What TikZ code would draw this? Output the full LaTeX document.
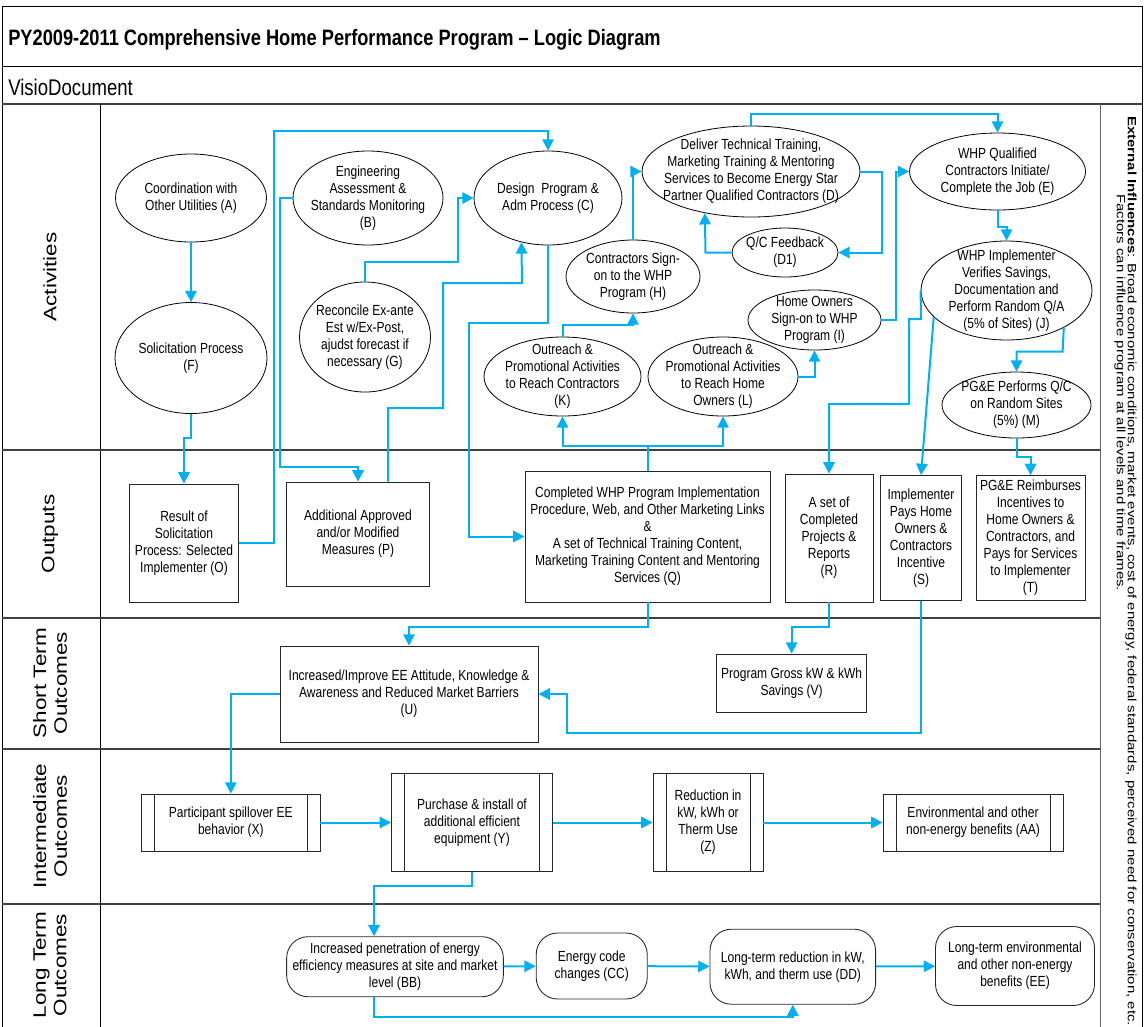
\documentclass[tikz,border=0pt]{standalone}
\usepackage{fontspec}
\setmainfont{Liberation Sans}[FakeStretch=0.82]
\newfontfamily\lanefont{Liberation Sans}[FakeStretch=1.25]
\usetikzlibrary{shapes,arrows.meta}
\definecolor{flowblue}{RGB}{0,176,240}

\begin{document}
\begin{tikzpicture}[x=0.75pt,y=-0.75pt,
  every node/.style={font=\fontsize{11}{12.75}\selectfont,align=center,inner sep=0pt},
  ell/.style 2 args={shape=ellipse,draw=black,line width=0.6pt,inner xsep=-20pt,inner ysep=-10pt,minimum width=#1*0.75pt,minimum height=#2*0.75pt},
  box/.style 2 args={shape=rectangle,draw=black!85,line width=0.65pt,minimum width=#1*0.75pt,minimum height=#2*0.75pt},
  proc/.style 2 args={box={#1}{#2},path picture={\draw[line width=0.6pt] ([xshift=9.75pt]path picture bounding box.north west) -- ([xshift=9.75pt]path picture bounding box.south west) ([xshift=-9.75pt]path picture bounding box.north east) -- ([xshift=-9.75pt]path picture bounding box.south east);}},
  term/.style 2 args={box={#1}{#2},rounded corners=16pt},
  flow/.style={draw=flowblue,line width=1.5pt,-{Triangle[length=8.5pt,width=8.5pt]}},
  lane/.style={draw=black!75,line width=1.2pt},
  lanelabel/.style={rotate=90,font=\lanefont\fontsize{13.5}{15.5}\selectfont}]
\useasboundingbox (0,0) rectangle (1144,1026);
\draw[line width=0.6pt] (2,6) rectangle (1142,1030);
\draw[line width=0.6pt] (2,66) -- (1142,66);
\draw[lane] (2,104) -- (1142,104);
\draw[line width=0.6pt] (100,104) -- (100,1030);
\draw[line width=0.6pt,black!60] (1100,104) -- (1100,1030);
\foreach \y in {450,618,749,904} \draw[lane] (2,\y) -- (1100,\y);

\node[anchor=west,font=\bfseries\fontsize{16.7}{20}\selectfont] (title) at (8,40) {PY2009-2011 Comprehensive Home Performance Program – Logic Diagram};
\node[anchor=west,font=\fontsize{17}{20}\selectfont] (visio) at (8,87) {VisioDocument};
\node[lanelabel] (act) at (50,277) {Activities};
\node[lanelabel] (out) at (50,534) {Outputs};
\node[lanelabel] (sto) at (50,683) {Short Term\\Outcomes};
\node[lanelabel] (ito) at (50,826) {Intermediate\\Outcomes};
\node[lanelabel] (lto) at (50,965) {Long Term\\Outcomes};
\node[rotate=-90,anchor=west,font=\lanefont\fontsize{9}{11}\selectfont] (ext) at (1131,116) {\textbf{External Influences}: Broad economic conditions, market events, cost of energy, federal standards, perceived need for conservation, etc.};
\node[rotate=-90,anchor=west,font=\lanefont\fontsize{9}{11}\selectfont] (ext2) at (1120,194) {Factors can influence program at all levels and time frames.};

\node[ell={151}{88}] (A) at (191,198) {Coordination with\\Other Utilities (A)};
\node[ell={152}{111}] (F) at (191,358) {Solicitation Process\\(F)};
\node[ell={150}{94}] (B) at (368,198) {Engineering\\Assessment \&\\Standards Monitoring\\(B)};
\node[ell={131}{110}] (G) at (365,337) {Reconcile Ex-ante\\Est w/Ex-Post,\\ajudst forecast if\\necessary (G)};
\node[ell={148}{94}] (C) at (548,198) {Design~ Program \&\\Adm Process (C)};
\node[ell={218}{91}] (D) at (751,171.5) {Deliver Technical Training,\\Marketing Training \& Mentoring\\Services to Become Energy Star\\Partner Qualified Contractors (D)};
\node[ell={176}{77}] (E) at (997.5,171.5) {WHP Qualified\\Contractors Initiate/\\Complete the Job (E)};
\node[ell={106}{49}] (D1) at (785,252.5) {Q/C Feedback\\(D1)};
\node[ell={134}{73}] (H) at (633,276.5) {Contractors Sign-\\on to the WHP\\Program (H)};
\node[ell={133}{60}] (I) at (814.5,320) {Home Owners\\Sign-on to WHP\\Program (I)};
\node[ell={171}{99}] (J) at (1006.5,290.5) {WHP Implementer\\Verifies Savings,\\Documentation and\\Perform Random Q/A\\(5\% of Sites) (J)};
\node[ell={157}{79}] (K) at (562.5,376.5) {Outreach \&\\Promotional Activities\\to Reach Contractors\\(K)};
\node[ell={150}{79}] (L) at (723,376.5) {Outreach \&\\Promotional Activities\\to Reach Home\\Owners (L)};
\node[ell={149}{66}] (M) at (1016.5,405) {PG\&E Performs Q/C\\on Random Sites\\(5\%) (M)};

\node[box={109}{118}] (O) at (184,543) {Result of\\Solicitation\\Process: Selected\\Implementer (O)};
\node[box={143}{104}] (P) at (358,534) {Additional Approved\\and/or Modified\\Measures (P)};
\node[box={245}{131}] (Q) at (647.5,536.5) {Completed WHP Program Implementation\\Procedure, Web, and Other Marketing Links\\\&\\A set of Technical Training Content,\\Marketing Training Content and Mentoring\\Services (Q)};
\node[box={88}{128}] (R) at (829,538) {A set of\\Completed\\Projects \&\\Reports\\(R)};
\node[box={81}{125}] (S) at (921,538) {Implementer\\Pays Home\\Owners \&\\Contractors\\Incentive\\(S)};
\node[box={109}{125}] (T) at (1030.5,538) {PG\&E Reimburses\\Incentives to\\Home Owners \&\\Contractors, and\\Pays for Services\\to Implementer\\(T)};
\node[box={258}{96}] (U) at (409,694) {Increased/Improve EE Attitude, Knowledge \&\\Awareness and Reduced Market Barriers\\(U)};
\node[box={150}{58}] (V) at (791.6,683) {Program Gross kW \& kWh\\Savings (V)};
\node[proc={178.5}{57}] (X) at (230.8,822.5) {Participant spillover EE\\behavior (X)};
\node[proc={161}{98}] (Y) at (472,822.5) {Purchase \& install of\\additional efficient\\equipment (Y)};
\node[proc={110}{98}] (Z) at (708,822.5) {Reduction in\\kW, kWh or\\Therm Use\\(Z)};
\node[proc={180}{57}] (AA) at (973,822.5) {Environmental and other\\non-energy benefits (AA)};
\node[term={216.7}{60}] (BB) at (395,966.7) {Increased penetration of energy\\efficiency measures at site and market\\level (BB)};
\node[term={111}{66}] (CC) at (591.7,966) {Energy code\\changes (CC)};
\node[term={165.6}{75}] (DD) at (792.8,966.7) {Long-term reduction in kW,\\kWh, and therm use (DD)};
\node[term={159}{79}] (EE) at (1015,966) {Long-term environmental\\and other non-energy\\benefits (EE)};

\draw[flow] (A) -- (F);
\draw[flow] (F.south) -- (191,438) -- (184,438) -- (O.north);
\draw[flow] (O.east) -- (274,543) -- (274,131) -- (548,131) -- (C.north);
\draw[flow] (B.west) -- (280,198) -- (280,467) -- (358,467) -- (P.north);
\draw[flow] ([xshift=22.5pt]P.north) -- (388,408) -- (443,408) -- (443,283) -- (522,283) -- (C.239);
\draw[flow] (G.north) -- (365,262) -- (458,262) -- (458,198) -- (C.west);
\draw[flow] (C.south) -- (548,323) -- (469,323) -- (469,536.5) -- (Q.west);
\draw[flow] (Q.north) -- (647.5,446) -- (562.5,446) -- (K.south);
\draw[flow] (Q.north) -- (647.5,446) -- (723,446) -- (L.south);
\draw[flow] (K.north) -- (562.5,325) -- (633,325) -- (H.south);
\draw[flow] (H.north) -- (633,171.5) -- (D.west);
\draw[flow] (L.east) -- (814.5,376.5) -- (I.south);
\draw[flow] (I.east) -- (896,320) -- (896,171.5) -- (E.west);
\draw[flow] (D.north) -- (751,114) -- (997.5,114) -- (E.north);
\draw[flow] (D.east) -- (881.5,171.5) -- (881.5,252.5) -- (D1.east);
\draw[flow] (D1.west) -- (705.5,252.5) -- (D.222);
\draw[flow] (E.south) -- (997.5,226.7) -- (1006.5,226.7) -- (J.north);
\draw[flow] (J.-33) -- (1062.6,351.7) -- (1016.5,351.7) -- (M.north);
\draw[flow] (J.west) -- (921,319) -- (909,319) -- (909,404) -- (829,404) -- (R.north);
\draw[flow] (J.200) -- (S.north);
\draw[flow] (M.south) -- (1016.5,457) -- (1030.5,457) -- (T.north);
\draw[flow] (R.south) -- (829,627) -- (791.6,627) -- (V.north);
\draw[flow] (Q.south) -- (647.5,627) -- (409,627) -- (U.north);
\draw[flow] (S.south) -- (921,733) -- (566.8,733) -- (566.8,694) -- (U.east);
\draw[flow] (U.west) -- (230.8,694) -- (X.north);
\draw[flow] (X) -- (Y);
\draw[flow] (Y) -- (Z);
\draw[flow] (Z) -- (AA);
\draw[flow] (Y.south) -- (472,886) -- (374,886) -- ([xshift=-15.75pt]BB.north);
\draw[flow] (BB) -- (CC);
\draw[flow] (CC) -- (DD);
\draw[flow] (DD) -- (EE);
\draw[flow] ([xshift=-15.75pt]BB.south) -- (374,1016.7) -- (792.8,1016.7) -- (DD.south);
\end{tikzpicture}
\end{document}
